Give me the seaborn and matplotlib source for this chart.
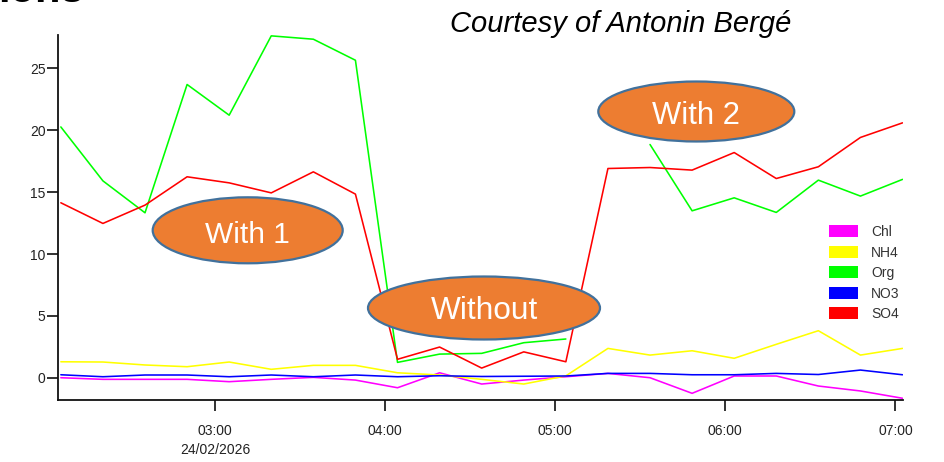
import numpy as np
import pandas as pd
import matplotlib
matplotlib.use("Agg")
import matplotlib.pyplot as plt
import matplotlib.dates as mdates
from matplotlib.patches import Ellipse, Patch
import seaborn as sns

# ---------------- data ----------------
series_names = ["Chl", "NH4", "Org", "NO3", "SO4"]
series_colors = ["#ff00ff", "#ffff00", "#00ff00", "#0000ff", "#ff0000"]

chl = [0.0, -0.13, -0.13, -0.13, -0.32, -0.13, 0.03, -0.19, -0.81, 0.40, -0.51,
       -0.19, 0.08, 0.35, 0.0, -1.26, 0.14, 0.14, -0.67, -1.07, -1.66]
nh4 = [1.29, 1.27, 1.03, 0.89, 1.27, 0.68, 1.00, 1.00, 0.40, 0.22, -0.13,
       -0.51, 0.15, 2.37, 1.83, 2.18, 1.57, 2.70, 3.80, 1.83, 2.37]
org = [20.27, 15.91, 13.33, 23.70, 21.22, 27.63, 27.36, 25.66, 1.24, 1.91, 1.97,
       2.83, 3.13, None, 18.85, 13.49, 14.54, 13.36, 15.97, 14.68, 16.03]
no3 = [0.24, 0.08, 0.22, 0.22, 0.08, 0.22, 0.08, 0.22, 0.08, 0.16, 0.10,
       0.12, 0.14, 0.35, 0.35, 0.24, 0.24, 0.35, 0.26, 0.62, 0.24]
so4 = [14.14, 12.47, 13.95, 16.24, 15.75, 14.94, 16.64, 14.84, 1.49, 2.48, 0.78,
       2.09, 1.29, 16.91, 16.99, 16.78, 18.20, 16.10, 17.05, 19.42, 20.60]

start_time = "2026-02-24 02:05:36"
end_time = "2026-02-24 07:02:30"
n_points = 21

y_ticks = [0, 5, 10, 15, 20, 25]
x_tick_hours = ["03:00", "04:00", "05:00", "06:00", "07:00"]
date_label = "24/02/2026"

annotations = ["With 1", "Without", "With 2"]
title_text = "Courtesy of Antonin Bergé"
corner_text = "ions"

# ---------------- build long table ----------------
times = pd.date_range(start_time, end_time, periods=n_points)
frames = []
for name, vals in zip(series_names, [chl, nh4, org, no3, so4]):
    v = pd.Series(vals, dtype="float64")
    seg = v.isna().cumsum()
    d = pd.DataFrame({"time": times, "value": v, "series": name,
                      "unit": [f"{name}_{s}" for s in seg]})
    frames.append(d.dropna())
df = pd.concat(frames, ignore_index=True)

# ---------------- figure ----------------
sns.set_theme(style="ticks")
plt.rcParams["font.family"] = ["Liberation Sans", "DejaVu Sans"]

W, H = 945, 462
fig = plt.figure(figsize=(W / 100, H / 100), dpi=100)
ax = fig.add_axes([58 / W, 1 - 400 / H, (903 - 58) / W, (400 - 35) / H])

sns.lineplot(data=df, x="time", y="value", hue="series", units="unit",
             estimator=None, palette=dict(zip(series_names, series_colors)),
             hue_order=series_names, linewidth=1.15, legend=False, ax=ax)

ax.set_xlim(pd.Timestamp("2026-02-24 02:04:36"), pd.Timestamp("2026-02-24 07:02:40"))
ax.set_ylim(-1.8, 27.7)
ax.set_xlabel("")
ax.set_ylabel("")

ax.set_yticks(y_ticks)
ax.set_yticklabels([str(t) for t in y_ticks])
xt = [pd.Timestamp(f"2026-02-24 {h}") for h in x_tick_hours]
ax.set_xticks(xt)
ax.set_xticklabels([h + ("\n" + date_label if i == 0 else "") for i, h in enumerate(x_tick_hours)])
for lbl in ax.get_xticklabels():
    lbl.set_linespacing(1.5)

ax.tick_params(axis="both", direction="out", length=8, width=1.3, colors="#222222",
               labelsize=10, labelcolor="#222222")
ax.tick_params(axis="x", pad=9)
ax.tick_params(axis="y", pad=1)
for s in ["top", "right"]:
    ax.spines[s].set_visible(False)
for s in ["left", "bottom"]:
    ax.spines[s].set_color("#111111")
    ax.spines[s].set_linewidth(1.3)

# legend with filled swatches
handles = [Patch(facecolor=c, edgecolor="none", label=n) for n, c in zip(series_names, series_colors)]
leg = ax.legend(handles=handles, loc="upper left", bbox_to_anchor=(829 / W, 1 - 225 / H),
                bbox_transform=fig.transFigure, frameon=False, fontsize=10,
                handlelength=2.1, handleheight=0.95, handletextpad=0.95,
                labelspacing=0.47, borderpad=0, borderaxespad=0)
for t in leg.get_texts():
    t.set_color("#333333")

# orange annotation ellipses
ell_specs = [((247.7, 230.3), 190, 66, 242.7, 21.5),
             ((484.0, 308.0), 232, 63, 319.3, 22.8),
             ((696.3, 111.5), 196, 60, 123.5, 22.3)]
for label, (c, w, h, base, fs) in zip(annotations, ell_specs):
    e = Ellipse((c[0] / W, 1 - c[1] / H), w / W, h / H, transform=fig.transFigure,
                facecolor="#ED7D31", edgecolor="#41719C", linewidth=1.6, zorder=10)
    fig.add_artist(e)
    fig.text(c[0] / W, 1 - base / H, label, ha="center", va="baseline",
             color="white", fontsize=fs, zorder=11)

fig.text(621 / W, 1 - 32 / H, title_text, ha="center", va="baseline",
         fontsize=21, style="italic", color="black")
fig.text(-2 / W, 1 - 2.5 / H, corner_text, ha="left", va="baseline",
         fontsize=30, fontweight="bold", color="black")

fig.savefig("out.png", dpi=100)
